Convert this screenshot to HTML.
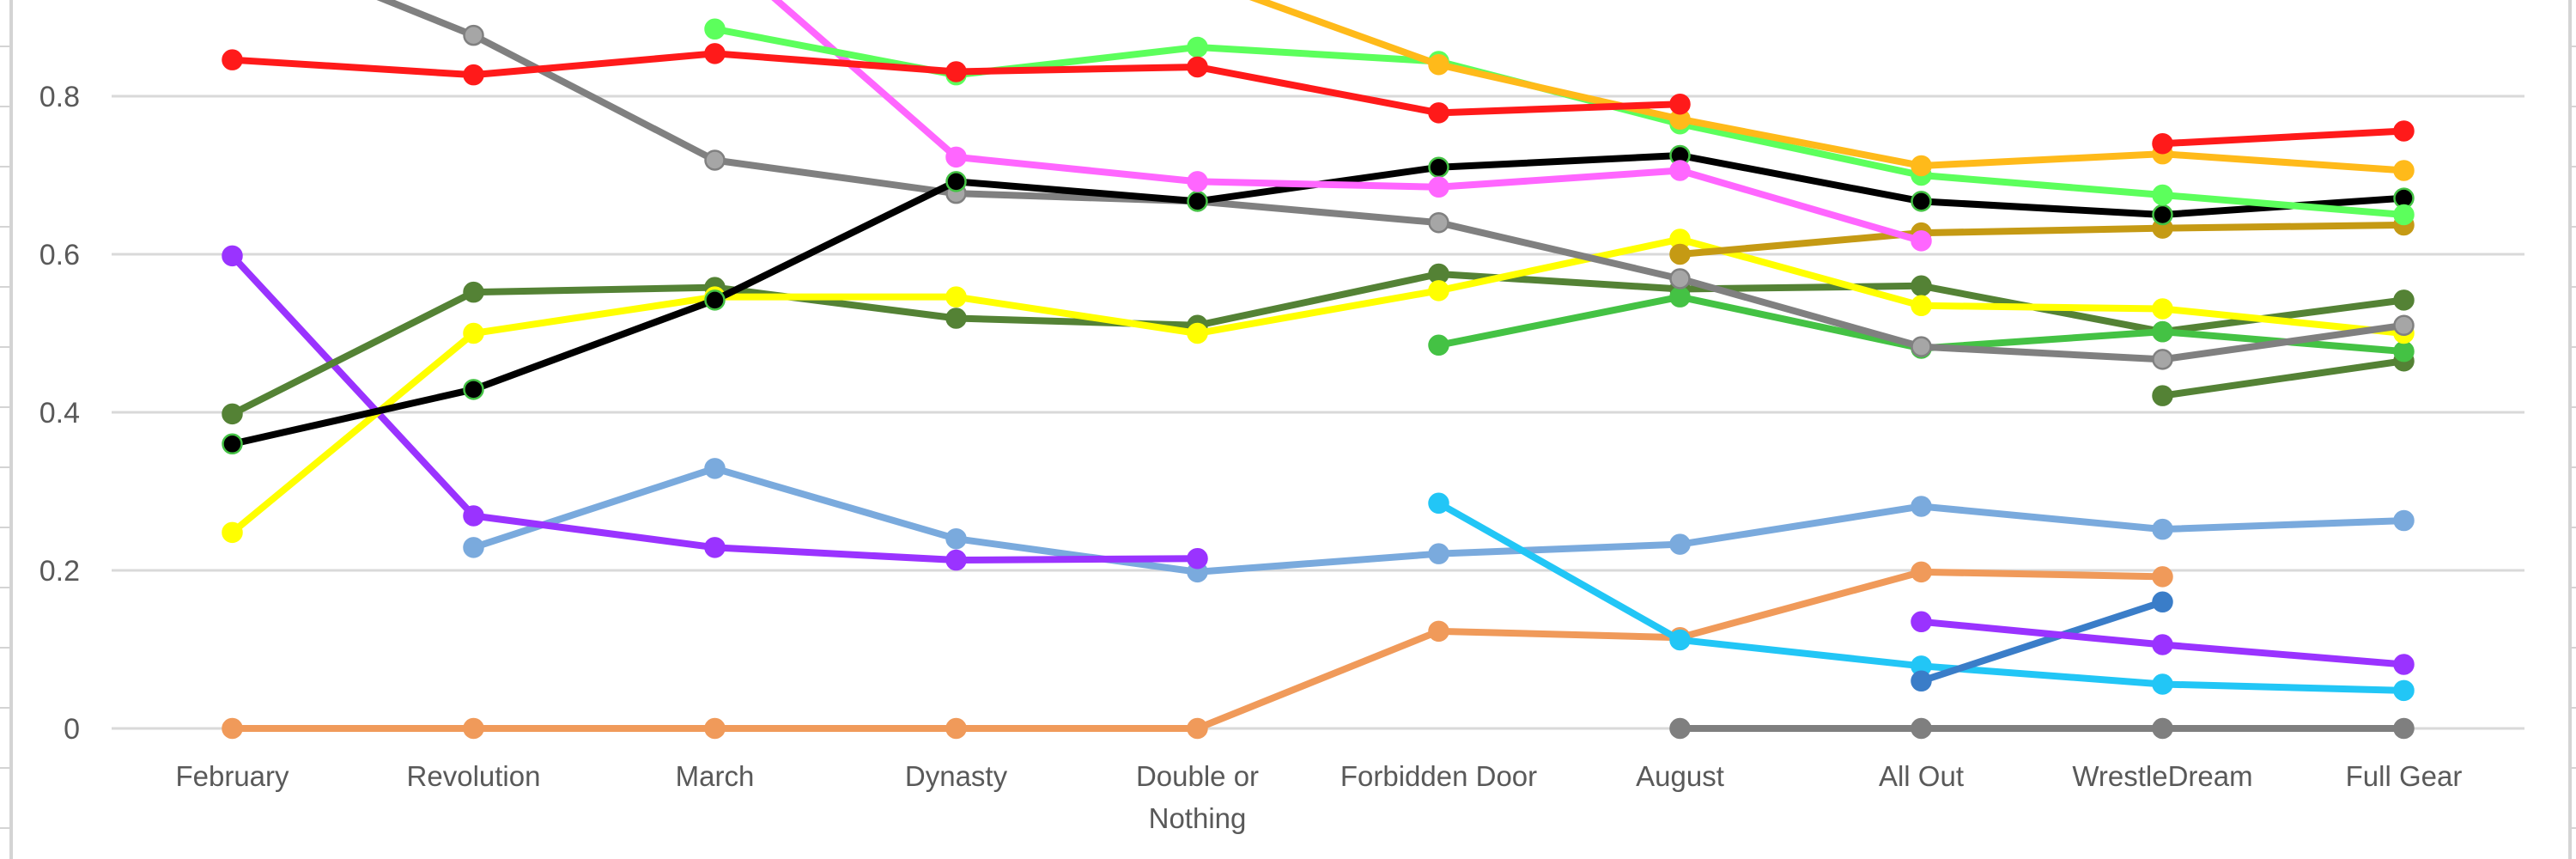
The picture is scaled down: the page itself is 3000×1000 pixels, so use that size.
<!DOCTYPE html>
<html><head><meta charset="utf-8">
<style>
html,body{margin:0;padding:0;background:#fff;}
svg{display:block;}
text{font-family:"Liberation Sans",sans-serif;fill:#595959;}
</style></head>
<body>
<svg id="chart" width="3000" height="1000" viewBox="0 0 3000 1000" xmlns="http://www.w3.org/2000/svg">
<g id="frame"></g>
<g id="grid"></g>
<g id="yaxis"></g>
<g id="xaxis"></g>
<g id="series"></g>
</svg>
<script>
const categories = ["February","Revolution","March","Dynasty","Double or\nNothing","Forbidden Door","August","All Out","WrestleDream","Full Gear"];
const yTicks = [0,0.2,0.4,0.6,0.8,1.0];
const yTickLabels = ["0","0.2","0.4","0.6","0.8",""];
const N = null;
const sRed      = [0.846,0.827,0.854,0.831,0.837,0.779,0.790,N,0.740,0.756];
const sGray     = [1.00,0.877,0.719,0.677,0.667,0.640,0.569,0.483,0.467,0.510];
const sBlack    = [0.360,0.429,0.542,0.692,0.667,0.710,0.725,0.667,0.650,0.671];
const sDkGreen  = [0.398,0.552,0.558,0.519,0.510,0.575,0.556,0.560,0.502,0.542];
const sYellow   = [0.248,0.500,0.546,0.546,0.500,0.554,0.619,0.535,0.531,0.500];
const sPurple   = [0.598,0.269,0.229,0.213,0.215,N,N,0.135,0.106,0.081];
const sLtBlue   = [N,0.229,0.329,0.240,0.198,0.221,0.233,0.281,0.252,0.263];
const sOrange   = [0,0,0,0,0,0.123,0.115,0.198,0.192,N];
const sPink     = [N,N,0.99,0.723,0.692,0.685,0.706,0.617,N,N];
const sLtGreen  = [N,N,0.885,0.827,0.862,0.844,0.765,0.700,0.675,0.650];
const sAmber    = [N,N,N,N,0.95,0.840,0.771,0.712,0.727,0.706];
const sDkGold   = [N,N,N,N,N,N,0.600,0.627,0.633,0.637];
const sMidGreen = [N,N,N,N,N,0.485,0.546,0.481,0.502,0.477];
const sDkGreen2 = [N,N,N,N,N,N,N,N,0.421,0.465];
const sSky      = [N,N,N,N,N,0.285,0.112,0.079,0.056,0.048];
const sBlue     = [N,N,N,N,N,N,N,0.060,0.160,N];
const sDkGray   = [N,N,N,N,N,N,0,0,0,0];

const seriesList = [
 {name:"series-orange",data:sOrange,color:"#F09A5A",mk:"#F09A5A",ms:"#F09A5A"},
 {name:"series-dark-gray",data:sDkGray,color:"#7F7F7F",mk:"#7F7F7F",ms:"#7F7F7F"},
 {name:"series-light-blue",data:sLtBlue,color:"#7AAADD",mk:"#7AAADD",ms:"#7AAADD"},
 {name:"series-sky-blue",data:sSky,color:"#22C6F6",mk:"#22C6F6",ms:"#22C6F6"},
 {name:"series-blue",data:sBlue,color:"#3A7DC8",mk:"#3A7DC8",ms:"#3A7DC8"},
 {name:"series-purple",data:sPurple,color:"#9A33FF",mk:"#9A33FF",ms:"#9A33FF"},
 {name:"series-dark-green",data:sDkGreen,color:"#548235",mk:"#548235",ms:"#548235"},
 {name:"series-dark-green-2",data:sDkGreen2,color:"#548235",mk:"#548235",ms:"#548235"},
 {name:"series-mid-green",data:sMidGreen,color:"#44C244",mk:"#44C244",ms:"#44C244"},
 {name:"series-yellow",data:sYellow,color:"#FFFF00",mk:"#FFFF00",ms:"#FFFF00"},
 {name:"series-gray",data:sGray,color:"#808080",mk:"#A6A6A6",ms:"#808080"},
 {name:"series-dark-gold",data:sDkGold,color:"#C59A14",mk:"#C59A14",ms:"#C59A14"},
 {name:"series-black",data:sBlack,color:"#000000",mk:"#000000",ms:"#44C244"},
 {name:"series-pink",data:sPink,color:"#FF66FF",mk:"#FF66FF",ms:"#FF66FF"},
 {name:"series-light-green",data:sLtGreen,color:"#5CFF5C",mk:"#5CFF5C",ms:"#5CFF5C"},
 {name:"series-amber",data:sAmber,color:"#FFBA1A",mk:"#FFBA1A",ms:"#FFBA1A"},
 {name:"series-red",data:sRed,color:"#FF1A1A",mk:"#FF1A1A",ms:"#FF1A1A"}
];

const NS="http://www.w3.org/2000/svg";
const plotL=130, plotR=2940, y0=848, pxPerUnit=920;
const band=(plotR-plotL)/categories.length;
function xPos(i){return plotL+band*(i+0.5);}
function yPos(v){return y0-v*pxPerUnit;}
function mk(tag,attrs,parent){const e=document.createElementNS(NS,tag);for(const k in attrs)e.setAttribute(k,attrs[k]);parent.appendChild(e);return e;}

// frame (spreadsheet edges)
const frame=document.getElementById('frame');
const fl=mk('line',{x1:13,y1:0,x2:13,y2:1000,stroke:"#d4d4d4","stroke-width":4},frame);


const fr=mk('line',{x1:2993,y1:0,x2:2993,y2:1000,stroke:"#d4d4d4","stroke-width":4},frame);


for(let y=54;y<1000;y+=70){
  const t1=mk('line',{x1:0,y1:y,x2:13,y2:y,stroke:"#d4d4d4","stroke-width":2},frame);
  
  
  const t2=mk('line',{x1:2993,y1:y,x2:3000,y2:y,stroke:"#d4d4d4","stroke-width":2},frame);
  
  
}

// grid + y labels
const grid=document.getElementById('grid'), yax=document.getElementById('yaxis');
yTicks.forEach((t,i)=>{
  const y=yPos(t);
  const g=mk('line',{x1:plotL,y1:y,x2:plotR,y2:y,stroke:"#d9d9d9","stroke-width":3},grid);
  
  
  if(yTickLabels[i]){
    const tx=mk('text',{x:93,y:y+12,"text-anchor":"end","font-size":34},yax);
    tx.textContent=yTickLabels[i];
    
    
  }
});

// x labels
const xax=document.getElementById('xaxis');
categories.forEach((c,i)=>{
  const lines=c.split("\n");
  const tx=mk('text',{x:xPos(i),y:915,"text-anchor":"middle","font-size":33},xax);
  
  
  lines.forEach((ln,j)=>{const ts=mk('tspan',{x:xPos(i),dy:j?49:0},tx);ts.textContent=ln;});
});

// series
const sg=document.getElementById('series');
seriesList.forEach(s=>{
  const g=mk('g',{},sg);
  
  
  let seg=[];
  const segs=[];
  s.data.forEach((v,i)=>{ if(v===null){ if(seg.length)segs.push(seg); seg=[]; } else seg.push([xPos(i),yPos(v)]); });
  if(seg.length)segs.push(seg);
  segs.forEach(pts=>{
    if(pts.length>1){
      const p=mk('polyline',{points:pts.map(p=>p.join(',')).join(' '),fill:"none",stroke:s.color,"stroke-width":8,"stroke-linejoin":"round","stroke-linecap":"round"},g);
      
      
    }
  });
  s.data.forEach((v,i)=>{
    if(v===null)return;
    const c=mk('circle',{cx:xPos(i),cy:yPos(v),r:11,fill:s.mk,stroke:s.ms,"stroke-width":2.5},g);
    
    
  });
});
</script>
</body></html>
